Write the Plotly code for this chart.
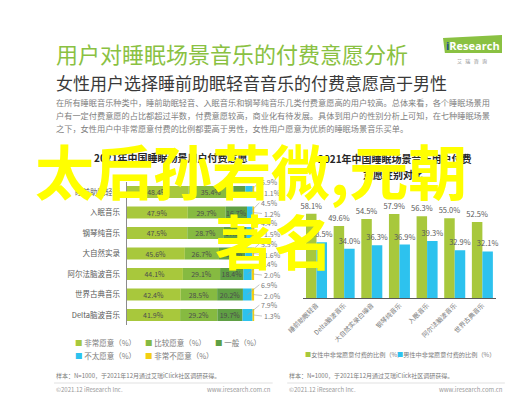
import plotly.graph_objects as go

# ---------------- data ----------------
categories = ["睡前助眠轻音", "入眠音乐", "钢琴纯音乐", "大自然实录", "阿尔法脑波音乐", "世界古典音乐", "Delta脑波音乐"]
very_willing = [48.4, 47.9, 47.5, 45.6, 44.1, 42.4, 41.9]
fairly_willing = [35.4, 29.7, 28.7, 26.7, 29.1, 28.5, 29.2]
neutral = [9.2, 16.7, 17.9, 20.6, 18.4, 20.2, 19.7]
unwilling = [5.9, 4.5, 4.4, 5.5, 6.4, 6.9, 7.9]
very_unwilling = [1.1, 1.2, 1.5, 1.6, 2.0, 2.0, 1.3]
left_series_names = ["非常愿意（%）", "比较愿意（%）", "一般（%）", "不太愿意（%）", "非常不愿意（%）"]

gender_categories = ["睡前助眠轻音", "Delta脑波音乐", "大自然实录白噪音", "钢琴纯音乐", "入眠音乐", "阿尔法脑波音乐", "世界古典音乐"]
female_very_willing = [58.1, 49.6, 54.5, 57.9, 56.3, 55.0, 52.5]
male_very_willing = [38.5, 34.0, 36.3, 36.9, 39.3, 32.9, 32.1]
right_series_names = ["女性中非常愿意付费的比例（%）", "男性中非常愿意付费的比例（%）"]

# ---------------- styling ----------------
W, H = 524, 393
FONT = "Noto Sans CJK SC, Noto Sans, sans-serif"
C_LIGHT = "#A8C83C"
C_MID = "#86BA41"
C_DARK = "#5F9F44"
C_CYAN = "#2DC2EE"
C_YEL = "#F3CF12"
C_TITLE = "#8AC142"


def px(x):
    return x / W


def py(y):
    return 1 - y / H


fig = go.Figure()

# ---- left stacked horizontal bars ----
series = [very_willing, fairly_willing, neutral, unwilling, very_unwilling]
colors = [C_LIGHT, C_MID, C_DARK, C_CYAN, C_YEL]
idx = list(range(len(categories)))
base = [0.0] * len(categories)
for k, (vals, col, name) in enumerate(zip(series, colors, left_series_names)):
    if k < 2:
        txt = [f"{v}%" for v in vals]
    elif k == 2:
        txt = [f"{v}%" if v >= 12 else "" for v in vals]
    else:
        txt = ["" for v in vals]
    fig.add_trace(go.Bar(
        x=vals, y=idx, base=list(base), orientation="h", width=0.58,
        marker=dict(color=col, line=dict(width=0)), name=name,
        text=txt, textposition="inside", insidetextanchor="middle",
        constraintext="none",
        textfont=dict(size=7, color="#4d4d4d", family=FONT),
        xaxis="x", yaxis="y", showlegend=False, hoverinfo="skip",
    ))
    base = [b + v for b, v in zip(base, vals)]

# ---- right grouped vertical bars ----
fig.add_trace(go.Bar(
    x=gender_categories, y=female_very_willing, width=0.38, offset=-0.38,
    marker=dict(color=C_LIGHT, line=dict(width=0)), name=right_series_names[0],
    text=[f"{v}%" for v in female_very_willing], textposition="outside",
    constraintext="none", cliponaxis=False,
    textfont=dict(size=7.5, color="#595959", family=FONT),
    xaxis="x2", yaxis="y2", showlegend=False, hoverinfo="skip",
))
fig.add_trace(go.Bar(
    x=gender_categories, y=male_very_willing, width=0.38, offset=0.0,
    marker=dict(color=C_CYAN, line=dict(width=0)), name=right_series_names[1],
    text=[f"{v}%" for v in male_very_willing], textposition="outside",
    constraintext="none", cliponaxis=False,
    textfont=dict(size=7.5, color="#595959", family=FONT),
    xaxis="x2", yaxis="y2", showlegend=False, hoverinfo="skip",
))

ann = []


def text(t, x, y, size, color, xanchor="left", bold=False, yanchor="middle"):
    if bold:
        t = f"<b>{t}</b>"
    ann.append(dict(text=t, x=px(x), y=py(y), xref="paper", yref="paper",
                    xanchor=xanchor, yanchor=yanchor, showarrow=False,
                    font=dict(size=size, color=color, family=FONT)))


# header
text("用户对睡眠场景音乐的付费意愿分析", 30, 45, 22, C_TITLE)
text("女性用户选择睡前助眠轻音音乐的付费意愿高于男性", 30, 74, 17, "#3a3a3a")
text("在所有睡眠音乐种类中，睡前助眠轻音、入眠音乐和钢琴纯音乐几类付费意愿高的用户较高。总体来看，各个睡眠场景用", 30, 94, 8.2, "#808080")
text("户有一定付费意愿的占比都超过半数，付费意愿较高，商业化有待发展。具体到用户的性别分析上可知，在七种睡眠场景", 30, 107, 8.2, "#808080")
text("之下，女性用户中非常愿意付费的比例都要高于男性，女性用户愿意为优质的睡眠场景音乐买单。", 30, 120, 8.2, "#808080")

# logo
ann.append(dict(text="<b><span style='color:#1d4f91'>i</span>Research</b>", x=px(463), y=py(37),
                xref="paper", yref="paper", showarrow=False, xanchor="center", yanchor="middle",
                font=dict(size=11, color="white", family="Open Sans, sans-serif")))
text("艾   瑞   咨   询", 462, 53, 5, "#8a8a8a", xanchor="center")

# chart titles
text("2021年中国睡眠场景用户付费意愿", 151, 149, 10, "#262626", xanchor="center", bold=True)
text("2021年中国睡眠场景音乐用户付费", 382, 150, 10, "#262626", xanchor="center", bold=True)
text("意愿性别对比", 380, 166, 10, "#262626", xanchor="center", bold=True)

# left value labels for small segments
for i in idx:
    cy_mid = 100 - very_unwilling[i] - unwilling[i] / 2
    ye_mid = 100 - very_unwilling[i] / 2
    ann.append(dict(text=f"{unwilling[i]}%", x=cy_mid, y=i, xref="x", yref="y",
                    ax=104, ay=i - 0.48, axref="x", ayref="y", xanchor="left", yanchor="middle",
                    showarrow=True, arrowhead=0, arrowwidth=0.6, arrowcolor="#a0a0a0", standoff=0,
                    font=dict(size=7, color="#7a7a7a", family=FONT)))
    ann.append(dict(text=f"{very_unwilling[i]}%", x=ye_mid, y=i, xref="x", yref="y",
                    ax=106, ay=i + 0.05, axref="x", ayref="y", xanchor="left", yanchor="middle",
                    showarrow=True, arrowhead=0, arrowwidth=0.6, arrowcolor="#a0a0a0", standoff=0,
                    font=dict(size=7, color="#7a7a7a", family=FONT)))

# legends (left)
leg_pos = [(50, 334), (122, 334), (194, 334), (50, 347), (122, 347)]
for (lx, ly), col, name in zip(leg_pos, colors, left_series_names):
    ann.append(dict(text=f"<span style='color:{col}'>■</span> {name}", x=px(lx), y=py(ly),
                    xref="paper", yref="paper", showarrow=False, xanchor="left", yanchor="middle",
                    font=dict(size=7.5, color="#7a7a7a", family=FONT)))
# legends (right)
for (lx, ly), col, name in zip([(287, 346), (382, 346)], [C_LIGHT, C_CYAN], right_series_names):
    ann.append(dict(text=f"<span style='color:{col}'>■</span>{name}", x=px(lx), y=py(ly),
                    xref="paper", yref="paper", showarrow=False, xanchor="left", yanchor="middle",
                    font=dict(size=6.2, color="#7a7a7a", family=FONT)))

# footers
src = "样本：N=1000，于2021年12月通过艾瑞iClick社区调研获得。"
text(src, 30, 367, 6, "#7a7a7a")
text(src, 271, 367, 6, "#7a7a7a")
text("©2021.12 iResearch Inc.", 30, 381, 6, "#9a9a9a")
text("www.iresearch.com.cn", 256, 381, 6, "#9a9a9a", xanchor="right")
text("©2021.12 iResearch Inc.", 271, 381, 6, "#9a9a9a")
text("www.iresearch.com.cn", 496, 381, 6, "#9a9a9a", xanchor="right")
text("14", 513, 381, 6, "#9a9a9a", xanchor="center")

# overlay text
ann.append(dict(text="<b>太后孙若微,元朝</b>", x=px(8), y=py(161), xref="paper", yref="paper",
                xanchor="left", yanchor="middle", showarrow=False,
                font=dict(size=59, color="#FFFF00", family=FONT)))
ann.append(dict(text="<b>著名</b>", x=px(257), y=py(232), xref="paper", yref="paper",
                xanchor="center", yanchor="middle", showarrow=False,
                font=dict(size=59, color="#FFFF00", family=FONT)))

shapes = [
    dict(type="path", xref="paper", yref="paper",
         path=f"M {px(434)},{py(45)} L {px(432)},{py(30)} L {px(493)},{py(27)} L {px(493)},{py(45)} Z",
         fillcolor=C_TITLE, line=dict(width=0), layer="below"),
    dict(type="line", xref="paper", yref="paper", x0=px(30), x1=px(256), y0=py(375), y1=py(375),
         line=dict(color="#d9d9d9", width=0.8)),
    dict(type="line", xref="paper", yref="paper", x0=px(271), x1=px(496), y0=py(375), y1=py(375),
         line=dict(color="#d9d9d9", width=0.8)),
]

fig.update_layout(
    width=W, height=H, margin=dict(l=0, r=0, t=0, b=0),
    paper_bgcolor="white", plot_bgcolor="white",
    barmode="overlay", showlegend=False,
    font=dict(family=FONT),
    xaxis=dict(domain=[px(105), px(237)], range=[0, 100], visible=False, fixedrange=True),
    yaxis=dict(domain=[py(317.25), py(173.75)], range=[6.5, -0.5], tickmode="array",
               tickvals=idx, ticktext=categories, showline=True, linecolor="#8c8c8c", linewidth=1,
               showgrid=False, zeroline=False, ticks="", ticklabelstandoff=4,
               tickfont=dict(size=7.5, color="#595959", family=FONT)),
    xaxis2=dict(domain=[px(287), px(487)], anchor="y2", showline=True, linecolor="#595959",
                linewidth=1, showgrid=False, ticks="", tickangle=-45,
                tickfont=dict(size=6.5, color="#7a7a7a", family=FONT)),
    yaxis2=dict(domain=[py(290), py(188.5)], anchor="x2", range=[0, 70], visible=False),
    annotations=ann,
    shapes=shapes,
)

fig.write_html("out.html")
